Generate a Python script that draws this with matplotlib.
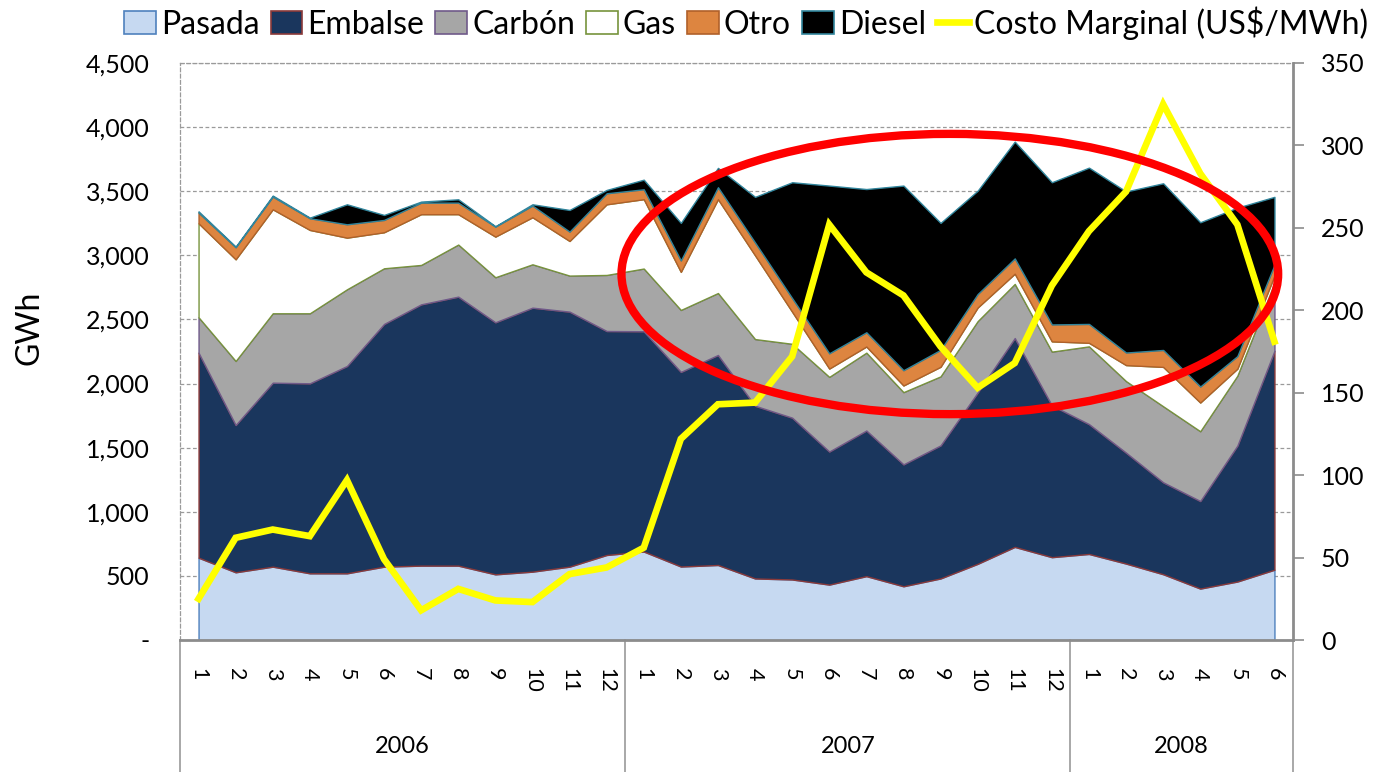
import numpy as np
import matplotlib.pyplot as plt
from matplotlib.patches import Patch, Ellipse
from matplotlib.lines import Line2D
from matplotlib.ticker import FuncFormatter
import matplotlib.transforms as mtransforms

plt.rcParams['font.family'] = ['Lato', 'DejaVu Sans']

# months (2006-01 .. 2008-06)
months = [str(m) for m in range(1, 13)] * 2 + [str(m) for m in range(1, 7)]
years = ['2006', '2007', '2008']
year_len = [12, 12, 6]

# generation by source, GWh
pasada = [642, 528, 572, 520, 520, 572, 580, 580, 512, 533, 572, 663,
          690, 573, 585, 480, 472, 432, 498, 419, 480, 594, 726, 646,
          671, 596, 513, 401, 456, 548]
embalse = [1599, 1149, 1435, 1482, 1617, 1893, 2038, 2098, 1966, 2059, 1989, 1747,
           1718, 1518, 1638, 1347, 1262, 1038, 1136, 951, 1038, 1336, 1629, 1184,
           1013, 865, 717, 683, 1060, 1708]
carbon = [276, 499, 541, 546, 598, 434, 307, 406, 351, 338, 281, 437,
          489, 483, 483, 520, 576, 582, 607, 563, 538, 557, 422, 419,
          606, 558, 593, 544, 545, 530]
gas = [733, 793, 811, 650, 403, 281, 396, 237, 317, 367, 270, 551,
       541, 297, 732, 653, 250, 65, 48, 52, 75, 106, 80, 80,
       28, 125, 307, 224, 55, 56]
otro = [83, 94, 99, 91, 104, 96, 90, 90, 78, 91, 73, 86,
        77, 89, 93, 100, 106, 119, 111, 119, 132, 105, 119, 132,
        147, 98, 132, 125, 98, 84]
diesel = [10, 5, 8, 5, 156, 39, 8, 26, 3, 10, 169, 26,
          75, 293, 151, 356, 904, 1308, 1117, 1440, 990, 806, 911, 1109,
          1219, 1256, 1300, 1281, 1158, 530]

# marginal cost, US$/MWh
costo = [25, 62, 67, 63, 97, 49, 18, 31, 24, 23, 40, 44,
         56, 122, 143, 144, 172, 252, 223, 209, 178, 153, 168, 215,
         248, 272, 325, 283, 252, 181]

labels = ['Pasada', 'Embalse', 'Carbón', 'Gas', 'Otro', 'Diesel']
fills = ['#c6d9f1', '#1a365d', '#a6a6a6', '#ffffff', '#dd8540', '#000000']
edges = ['#4f81bd', '#8b3a3a', '#6f5a8a', '#77933c', '#b0602a', '#31859c']

x = np.arange(len(months))

fig = plt.figure(figsize=(13.73, 7.72), dpi=100)
ax = fig.add_axes([180/1373, 1 - 640/772, (1293 - 180)/1373, (640 - 63)/772])

polys = ax.stackplot(x, pasada, embalse, carbon, gas, otro, diesel,
                     colors=fills, zorder=2)
for p, ec in zip(polys, edges):
    p.set_edgecolor(ec)
    p.set_linewidth(1.0)

ax.set_xlim(-0.5, len(months) - 0.5)
ax.set_ylim(0, 4500)
ax.set_yticks(np.arange(0, 4501, 500))
ax.yaxis.set_major_formatter(FuncFormatter(lambda v, p: '-' if v == 0 else f'{int(v):,}'))
ax.grid(axis='y', color='#9a9a9a', linestyle=(0, (3, 2)), linewidth=0.9, zorder=1)
ax.set_axisbelow(True)
ax.tick_params(axis='y', length=0, labelsize=18, pad=22)
ax.set_xticks(x)
ax.set_xticklabels(months, rotation=270, fontsize=15.5)
ax.tick_params(axis='x', length=0, pad=20)

for s in ['left', 'top']:
    ax.spines[s].set_color('#9a9a9a')
    ax.spines[s].set_linestyle((0, (3, 2)))
    ax.spines[s].set_linewidth(0.9)
ax.spines['bottom'].set_color('#8c8c8c')
ax.spines['bottom'].set_linewidth(2)
ax.spines['right'].set_visible(False)

# year groups under the axis
trans = mtransforms.blended_transform_factory(ax.transData, ax.transAxes)
start = 0
bounds = [-0.5]
for yr, n in zip(years, year_len):
    ax.text(start + (n - 1) / 2, -0.185, yr, transform=trans, ha='center',
            va='center', fontsize=17)
    start += n
    bounds.append(start - 0.5)
for b in bounds:
    ax.plot([b, b], [0, -0.24], transform=trans, color='#9a9a9a', lw=1.2,
            clip_on=False)

fig.text(30/1373, 1 - 328/772, 'GWh', rotation=90, ha='center', va='center',
         fontsize=23)

ax2 = ax.twinx()
ax2.plot(x, costo, color='#ffff00', lw=4.8, solid_joinstyle='miter', zorder=3)
ax2.set_ylim(0, 350)
ax2.set_yticks(np.arange(0, 351, 50))
ax2.tick_params(axis='y', direction='out', length=8, width=1.2, color='#8c8c8c',
                labelsize=18, pad=12)
for s in ['left', 'top', 'bottom']:
    ax2.spines[s].set_visible(False)
ax2.spines['right'].set_color('#8c8c8c')
ax2.spines['right'].set_linewidth(2)

ell = Ellipse((20.25, 222), width=17.7, height=170, fill=False,
              edgecolor='#ff0000', lw=6, zorder=5, clip_on=False)
ax2.add_patch(ell)

handles = [Patch(facecolor=f, edgecolor=e, linewidth=1.2) for f, e in zip(fills, edges)]
handles.append(Line2D([0], [0], color='#ffff00', lw=4.8))
fig.legend(handles, labels + ['Costo Marginal (US$/MWh)'], loc='center',
           bbox_to_anchor=(746/1373, 1 - 23/772), ncol=7, frameon=False,
           fontsize=23, handlelength=1.0, handleheight=0.75, handletextpad=0.15,
           columnspacing=0.35)

fig.savefig('out.png', dpi=100)
